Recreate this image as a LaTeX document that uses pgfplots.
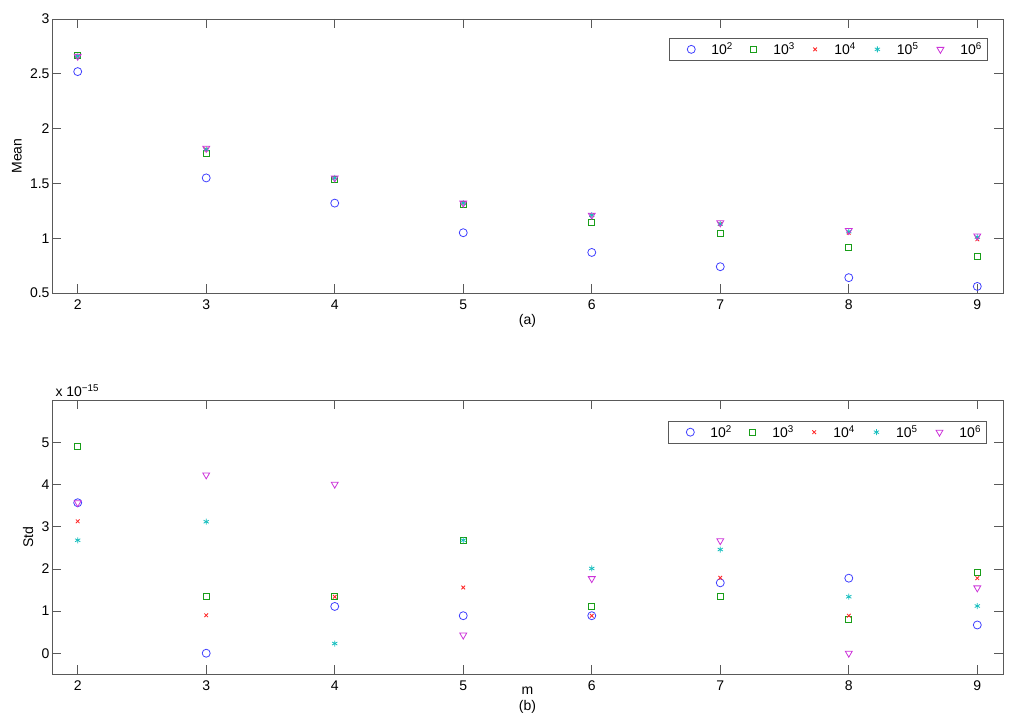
\documentclass[border=0pt]{standalone}
\usepackage{pgfplots}
\pgfplotsset{compat=1.18}
\usepackage{fontspec}
\setmainfont{Liberation Sans}

\definecolor{mb}{rgb}{0.25,0.25,1}
\definecolor{mg}{rgb}{0.1,0.62,0.1}
\definecolor{mr}{rgb}{1,0.15,0.15}
\definecolor{mc}{rgb}{0.1,0.75,0.75}
\definecolor{mm}{rgb}{0.8,0.2,0.85}

\newcommand{\lfont}{\fontsize{14}{16}\selectfont}

\pgfplotsset{
  mstyle/.style={
    scale only axis, width=951pt, height=274pt,
    clip mode=individual,
    xmin=1.8, xmax=9.2, xtick={2,...,9},
    tick align=inside, xtick pos=both, ytick pos=both,
    minor tick num=0,
    major tick length=9pt,
    axis line style={black!65, line width=0.8pt},
    every tick/.style={black!65, line width=0.8pt},
    tick label style={font=\lfont},
    /pgf/number format/assume math mode=true,
    xticklabel style={yshift=-3pt},
    yticklabel style={xshift=1pt},
    legend columns=5,
  },
  mleg/.style={at={(axis description cs:#1)}, anchor=north east,
    draw=black!65, line width=0.8pt, font=\lfont, inner xsep=18pt, inner ysep=1pt,
    nodes={inner xsep=0pt, inner ysep=3pt}},
  sO/.style={only marks, mark=o, mark size=4pt, color=mb, mark options={line width=0.8pt}},
  sS/.style={only marks, mark=square, mark size=3pt, color=mg, mark options={line width=0.9pt}},
  sX/.style={only marks, mark=x, mark size=2.6pt, color=mr, mark options={line width=0.8pt}},
  sA/.style={only marks, mark=asterisk, mark size=3pt, color=mc, mark options={line width=0.8pt}},
  sT/.style={only marks, mark=triangle, mark size=4pt, color=mm, mark options={line width=0.8pt, rotate=180}},
}
% #1 box width, #2 lead space, #3 exponent
\newcommand{\lgent}[3]{\makebox[#1][l]{\lfont\hspace{#2}10\textsuperscript{#3}}}

\begin{document}
\begin{tikzpicture}
\useasboundingbox (0,0) rectangle (1024pt,719pt);

% ---------- (a) Mean ----------
\begin{axis}[mstyle, at={(52pt,426pt)}, anchor=south west,
  ymin=0.5, ymax=3, ytick={0.5,1,1.5,2,2.5,3},
  ylabel={Mean}, ylabel style={font=\lfont, at={(axis description cs:-0.037,0.5)}, anchor=center},
  legend style={mleg={0.984,0.93}}]
\addplot[sO] coordinates {(2,2.52) (3,1.55) (4,1.32) (5,1.05) (6,0.87) (7,0.74) (8,0.64) (9,0.56)};
\addlegendentry{\lgent{55pt}{16pt}{2}}
\addplot[sS] coordinates {(2,2.67) (3,1.77) (4,1.54) (5,1.31) (6,1.14) (7,1.04) (8,0.92) (9,0.83)};
\addlegendentry{\lgent{57pt}{17pt}{3}}
\addplot[sX] coordinates {(2,2.66) (3,1.81) (4,1.55) (5,1.32) (6,1.21) (7,1.13) (8,1.05) (9,0.99)};
\addlegendentry{\lgent{57.8pt}{17.4pt}{4}}
\addplot[sA] coordinates {(2,2.66) (3,1.81) (4,1.55) (5,1.32) (6,1.21) (7,1.13) (8,1.06) (9,1.01)};
\addlegendentry{\lgent{57pt}{17pt}{5}}
\addplot[sT] coordinates {(2,2.66) (3,1.82) (4,1.55) (5,1.32) (6,1.21) (7,1.14) (8,1.07) (9,1.02)};
\addlegendentry{\lgent{25.5pt}{16.5pt}{6}}
\node[font=\lfont] at (axis description cs:0.5,-0.102) {(a)};
\end{axis}

% ---------- (b) Std ----------
\begin{axis}[mstyle, at={(52pt,44.7pt)}, anchor=south west,
  ymin=-0.5, ymax=6, ytick={0,1,2,3,4,5},
  ylabel={Std}, ylabel style={font=\lfont, at={(axis description cs:-0.025,0.5)}, anchor=center},
  legend style={mleg={0.983,0.9245}}]
\addplot[sO] coordinates {(2,3.57) (3,0.00) (4,1.11) (5,0.89) (6,0.89) (7,1.67) (8,1.78) (9,0.67)};
\addlegendentry{\lgent{55pt}{16pt}{2}}
\addplot[sS] coordinates {(2,4.90) (3,1.34) (4,1.34) (5,2.68) (6,1.12) (7,1.34) (8,0.79) (9,1.91)};
\addlegendentry{\lgent{57pt}{17pt}{3}}
\addplot[sX] coordinates {(2,3.13) (3,0.90) (4,1.34) (5,1.56) (6,0.89) (7,1.79) (8,0.89) (9,1.78)};
\addlegendentry{\lgent{57.8pt}{17.4pt}{4}}
\addplot[sA] coordinates {(2,2.68) (3,3.12) (4,0.23) (5,2.68) (6,2.01) (7,2.46) (8,1.34) (9,1.12)};
\addlegendentry{\lgent{57pt}{17pt}{5}}
\addplot[sT] coordinates {(2,3.57) (3,4.23) (4,4.01) (5,0.43) (6,1.77) (7,2.67) (8,0.00) (9,1.55)};
\addlegendentry{\lgent{25.5pt}{16.5pt}{6}}
\node[font=\lfont, anchor=base west] at (axis description cs:0,1.0146) {x 10\textsuperscript{−15}};
\node[font=\lfont] at (axis description cs:0.5,-0.061) {m};
\node[font=\lfont] at (axis description cs:0.5,-0.118) {(b)};
\end{axis}
\end{tikzpicture}
\end{document}
